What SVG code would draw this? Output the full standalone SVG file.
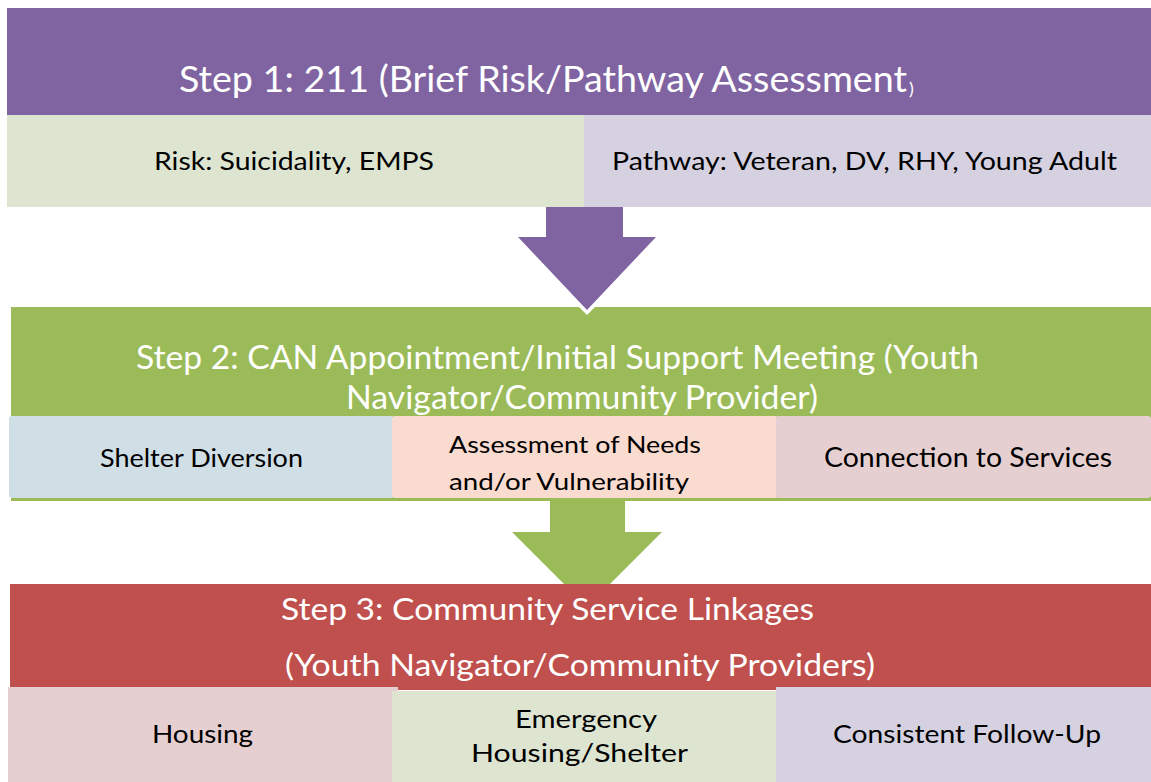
<svg xmlns="http://www.w3.org/2000/svg" width="1151" height="782" viewBox="0 0 1151 782">
<style>
  .title { font-family: Lato, "Open Sans", "Liberation Sans", sans-serif; fill: #FFFFFF; }
  .lbl { font-family: Lato, "Open Sans", "Liberation Sans", sans-serif; fill: #000000; }
</style>
<rect x="0" y="0" width="1151" height="782" fill="#FFFFFF"/>

<g id="step1">
  <rect x="7" y="8" width="1144" height="107" fill="#8064A2"/>
  <text class="title" font-size="37" y="92"><tspan x="179" textLength="728" lengthAdjust="spacingAndGlyphs">Step 1: 211 (Brief Risk/Pathway Assessment</tspan><tspan x="909" y="95" font-size="18">)</tspan></text>
</g>
<g id="step1-risk">
  <rect x="7" y="115" width="577" height="92" fill="#DDE5D1"/>
  <text class="lbl" font-size="25" x="154" y="170" textLength="280" lengthAdjust="spacingAndGlyphs">Risk: Suicidality, EMPS</text>
</g>
<g id="step1-pathway">
  <rect x="584" y="115" width="567" height="92" fill="#D5D1E1"/>
  <text class="lbl" font-size="25" x="612" y="170" textLength="505" lengthAdjust="spacingAndGlyphs">Pathway: Veteran, DV, RHY, Young Adult</text>
</g>

<g id="step2">
  <rect x="11" y="307" width="1140" height="194" fill="#9BBB59"/>
  <text class="title" font-size="32" y="369"><tspan x="136" textLength="843" lengthAdjust="spacingAndGlyphs">Step 2: CAN Appointment/Initial Support Meeting (Youth</tspan><tspan x="346" y="409" textLength="472" lengthAdjust="spacingAndGlyphs">Navigator/Community Provider)</tspan></text>
</g>
<g id="step2-shelter">
  <rect x="9" y="416" width="385" height="82" rx="3" fill="#D0DFE6"/>
  <text class="lbl" font-size="25" x="100" y="467" textLength="203" lengthAdjust="spacingAndGlyphs">Shelter Diversion</text>
</g>
<g id="step2-assessment">
  <rect x="392" y="416" width="386" height="82" rx="3" fill="#F9DBCF"/>
  <text class="lbl" font-size="24" y="453"><tspan x="449" textLength="252" lengthAdjust="spacingAndGlyphs">Assessment of Needs</tspan><tspan x="449" y="490" textLength="240" lengthAdjust="spacingAndGlyphs">and/or Vulnerability</tspan></text>
</g>
<g id="step2-connection">
  <rect x="776" y="416" width="375" height="82" rx="3" fill="#E6CFD0"/>
  <text class="lbl" font-size="27" x="824" y="467" textLength="288" lengthAdjust="spacingAndGlyphs">Connection to Services</text>
</g>

<g id="connectors">
  <path d="M579,307 L587,315 L595,307 Z" fill="#FFFFFF"/>
  <path d="M546,207 L623,207 L623,237 L656,237 L587,310 L518,237 L546,237 Z" fill="#8064A2"/>
  <path d="M550,501 L625,501 L625,532 L662,532 L587,607 L512,532 L550,532 Z" fill="#9BBB59"/>
</g>

<g id="step3">
  <rect x="10" y="584" width="1141" height="106" fill="#C0504D"/>
  <text class="title" font-size="31" y="620"><tspan x="281" textLength="533" lengthAdjust="spacingAndGlyphs">Step 3: Community Service Linkages</tspan><tspan x="285" y="676" textLength="590" lengthAdjust="spacingAndGlyphs">(Youth Navigator/Community Providers)</tspan></text>
</g>
<g id="step3-housing">
  <rect x="8" y="687" width="390" height="95" fill="#E6CFD0"/>
  <text class="lbl" font-size="25" x="152" y="743" textLength="101" lengthAdjust="spacingAndGlyphs">Housing</text>
</g>
<g id="step3-emergency">
  <rect x="392" y="691" width="384" height="91" fill="#DDE5D1"/>
  <text class="lbl" font-size="25" y="728"><tspan x="515" textLength="142" lengthAdjust="spacingAndGlyphs">Emergency</tspan><tspan x="471" y="762" textLength="217" lengthAdjust="spacingAndGlyphs">Housing/Shelter</tspan></text>
</g>
<g id="step3-followup">
  <rect x="776" y="687" width="375" height="95" fill="#D5D1E1"/>
  <text class="lbl" font-size="25" x="833" y="743" textLength="268" lengthAdjust="spacingAndGlyphs">Consistent Follow-Up</text>
</g>
</svg>
